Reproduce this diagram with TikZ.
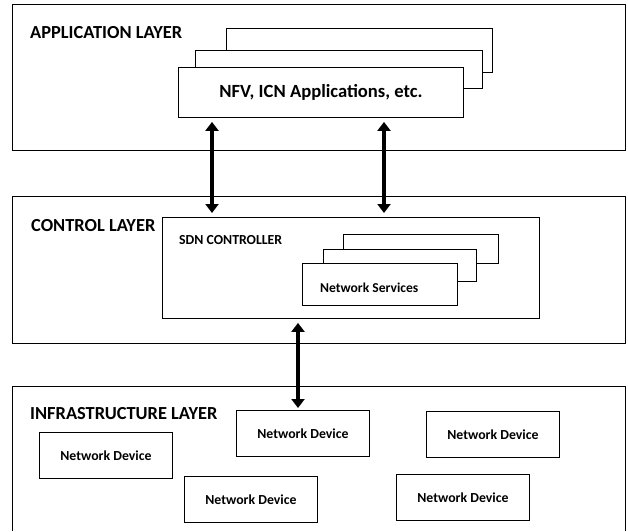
\documentclass[tikz,border=0pt]{standalone}
\usepackage{fontspec}
\setmainfont{Carlito}
\usetikzlibrary{positioning, arrows.meta}

\begin{document}
\begin{tikzpicture}[x=1pt, y=-1pt,
    layerbox/.style={draw, line width=1pt, anchor=north west, inner sep=0pt},
    title/.style={anchor=west, inner sep=0pt, font=\bfseries\fontsize{18.4}{20}\selectfont},
    stackbox/.style={draw, fill=white, line width=0.9pt, anchor=north west, inner sep=0pt},
    device/.style={draw, fill=white, line width=0.9pt, anchor=north west, inner sep=0pt,
        minimum width=133pt, minimum height=46pt, font=\bfseries\fontsize{13.8}{15}\selectfont},
    link/.style={{Triangle[width=13pt,length=9pt]}-{Triangle[width=13pt,length=9pt]},
        line width=4pt, shorten <=4pt, shorten >=4pt}]

    \useasboundingbox (0,0) rectangle (628,531);

    % ;- Application layer ;-
    \node[layerbox, minimum width=613pt, minimum height=146pt] (app) at (12,4) {};
    \node[title] (apptitle) at (30,33) {APPLICATION LAYER};
    % stacked application boxes, back to front
    \node[stackbox, minimum width=266pt, minimum height=44pt] (appback) at (226,28) {};
    \node[stackbox, minimum width=287pt, minimum height=38pt] (appmid) at (195,50) {};
    \node[stackbox, minimum width=285pt, minimum height=50pt,
        font=\bfseries\fontsize{18.6}{20}\selectfont] (apps) at (178,67) {NFV, ICN Applications, etc.};

    % ;- Control layer ;-
    \node[layerbox, minimum width=613pt, minimum height=147pt] (ctrl) at (12,196) {};
    \node[title] (ctrltitle) at (31,226) {CONTROL LAYER};
    \node[stackbox, minimum width=377pt, minimum height=101pt] (sdn) at (162,217) {};
    \node[anchor=west, inner sep=0pt, font=\bfseries\fontsize{13.8}{15}\selectfont]
        (sdntitle) at (179,240) {SDN CONTROLLER};
    % stacked service boxes
    \node[stackbox, minimum width=155pt, minimum height=29pt] (svcback) at (343,234) {};
    \node[stackbox, minimum width=153pt, minimum height=32pt] (svcmid) at (323,249) {};
    \node[stackbox, minimum width=155pt, minimum height=42pt] (svcfront) at (302,263) {};
    \node[anchor=west, inner sep=0pt, font=\bfseries\fontsize{13.6}{15}\selectfont]
        (svctext) at (320,288) {Network Services};

    % ;- Infrastructure layer (runs off the bottom) ;-
    \draw[line width=1pt] (12,531) -- (12,386) -- (625,386) -- (625,531);
    \node[title] (infratitle) at (30,414) {INFRASTRUCTURE LAYER};
    \node[device] (dev1) at (39,432) {Network Device};
    \node[device] (dev2) at (236,410) {Network Device};
    \node[device] (dev3) at (426,411) {Network Device};
    \node[device] (dev4) at (184,476) {Network Device};
    \node[device] (dev5) at (396,474) {Network Device};

    % ;- links between layers ;-
    \coordinate (l1) at (212,0);
    \coordinate (l2) at (384,0);
    \coordinate (l3) at (298,0);
    \draw[link] (apps.south -| l1) -- (sdn.north -| l1);
    \draw[link] (apps.south -| l2) -- (sdn.north -| l2);
    \draw[link, shorten >=2pt] (sdn.south -| l3) -- (dev2.north -| l3);

\end{tikzpicture}
\end{document}
